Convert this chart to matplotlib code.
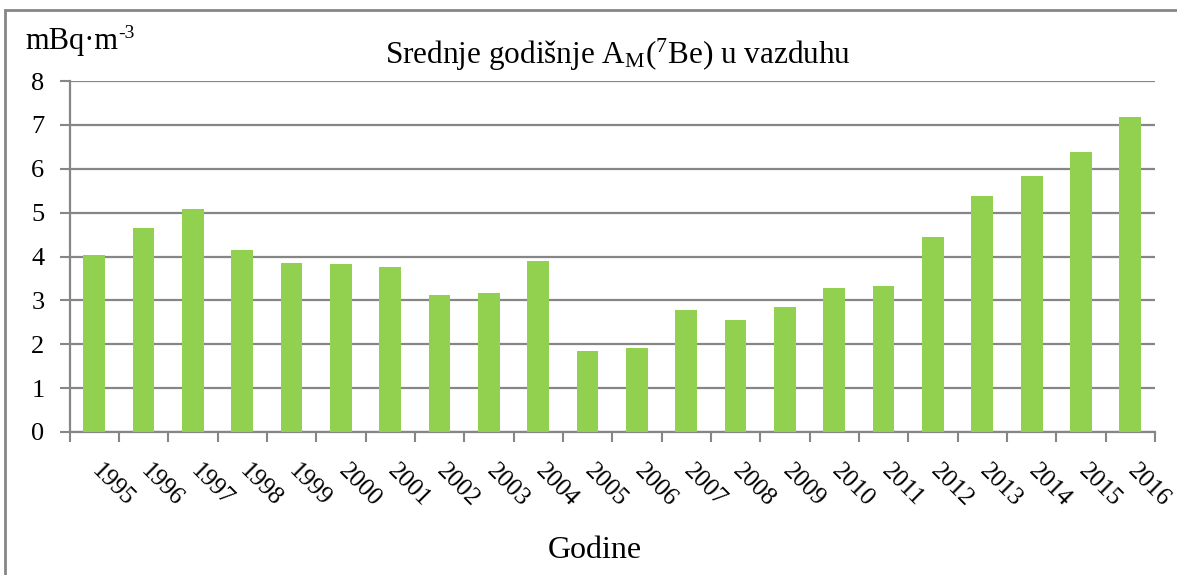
import matplotlib
matplotlib.use("Agg")
import matplotlib.pyplot as plt
import matplotlib.transforms as mtransforms
from matplotlib.patches import Rectangle

plt.rcParams['font.family'] = ['Liberation Serif', 'DejaVu Serif']
plt.rcParams['mathtext.fontset'] = 'custom'
plt.rcParams['mathtext.rm'] = 'Liberation Serif'
plt.rcParams['mathtext.it'] = 'Liberation Serif:italic'

godine = ['1995', '1996', '1997', '1998', '1999', '2000', '2001', '2002', '2003', '2004', '2005',
          '2006', '2007', '2008', '2009', '2010', '2011', '2012', '2013', '2014', '2015', '2016']
aktivnost = [4.03, 4.64, 5.08, 4.15, 3.86, 3.83, 3.76, 3.13, 3.16, 3.89, 1.85,
             1.91, 2.78, 2.56, 2.84, 3.29, 3.32, 4.44, 5.37, 5.84, 6.38, 7.19]

siva = '#868686'
zelena = '#92D050'

fig = plt.figure(figsize=(11.77, 5.75), dpi=100)
ax = fig.add_axes([69.5 / 1177, 1 - 432 / 575, (1155 - 69.5) / 1177, (432 - 81) / 575])

x = list(range(len(godine)))
ax.bar(x, aktivnost, width=0.44, color=zelena, zorder=3)

ax.set_xlim(-0.5, len(godine) - 0.5)
ax.set_ylim(0, 8)
ax.set_yticks(range(0, 9))
ax.yaxis.grid(True, color=siva, linewidth=1.6, zorder=0)

for s in ['top', 'right']:
    ax.spines[s].set_visible(False)
ax.spines['left'].set_color(siva)
ax.spines['bottom'].set_color(siva)
ax.spines['left'].set_linewidth(1.6)
ax.spines['bottom'].set_linewidth(1.6)

# kategorijske crtice izmedju stubaca
ax.set_xticks([i - 0.5 for i in range(len(godine) + 1)])
ax.set_xticklabels([])
ax.set_xticks(x, minor=True)
ax.set_xticklabels(godine, minor=True, rotation=-45, ha='center', va='center',
                   rotation_mode='anchor', fontsize=18)
ax.tick_params(axis='x', which='major', length=7, width=1.5, color=siva, direction='out')
ax.tick_params(axis='x', which='minor', length=0, pad=0)
ax.tick_params(axis='y', length=7, width=1.5, color=siva, labelsize=19, pad=11)

pomak = mtransforms.ScaledTranslation(0.185, -0.53, fig.dpi_scale_trans)
for lbl in ax.get_xticklabels(minor=True):
    lbl.set_transform(lbl.get_transform() + pomak)

fig.text(618 / 1177, 1 - 55 / 575, r'Srednje godišnje A$_\mathrm{M}$($^\mathrm{7}$Be) u vazduhu',
         ha='center', va='center', fontsize=22.5)
jed = fig.text(25 / 1177, 1 - 42 / 575, 'mBq·m', ha='left', va='center', fontsize=22)
fig.canvas.draw()
kraj = jed.get_window_extent()
fig.text(kraj.x1 / 1177 + 0.5 / 1177, 1 - 33 / 575, '-3', ha='left', va='center', fontsize=14)
fig.text(595 / 1177, 1 - 551 / 575, 'Godine', ha='center', va='center', fontsize=23)

# okvir oko grafikona
fig.patches.append(Rectangle((5 / 1177, -0.1), 1.2, 1.1 - 10 / 575, transform=fig.transFigure,
                             fill=False, edgecolor=siva, linewidth=2))

fig.savefig('out.png', dpi=100)
